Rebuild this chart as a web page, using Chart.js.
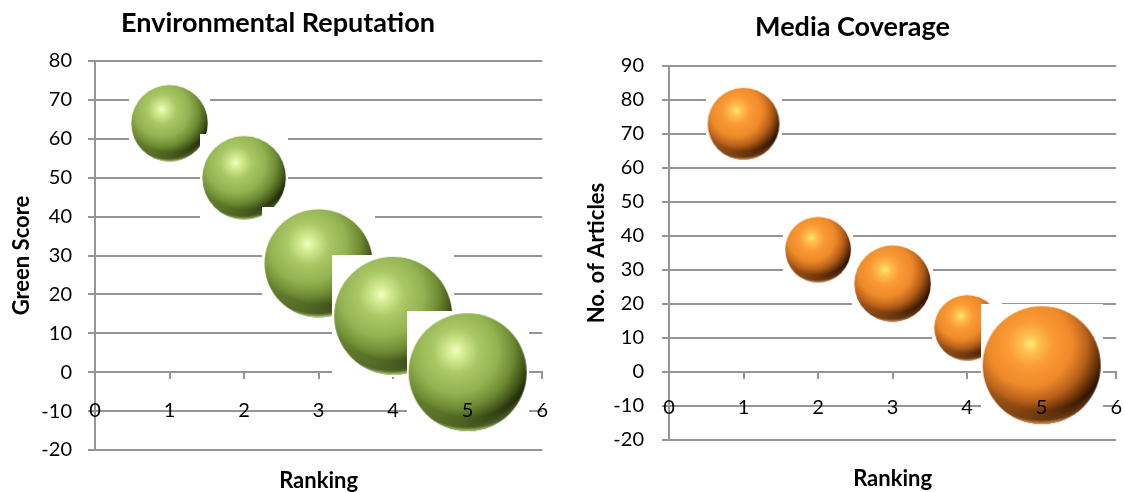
<!DOCTYPE html>
<html>
<head>
<meta charset="utf-8">
<title>Environmental Reputation and Media Coverage</title>
<script src="https://cdn.jsdelivr.net/npm/chart.js@4/dist/chart.umd.min.js"></script>
<style>
  html, body { margin: 0; padding: 0; background: #fff; overflow: hidden; width: 1125px; height: 492px; }
  .panel { position: absolute; top: 0; height: 492px; }
  #panelEnv { left: 0; width: 568px; }
  #panelMedia { left: 560px; width: 580px; }
  canvas { display: block; }
</style>
</head>
<body>
<div class="panel" id="panelEnv"><canvas id="envChart" width="568" height="492"></canvas></div>
<div class="panel" id="panelMedia"><canvas id="mediaChart" width="580" height="492"></canvas></div>
<script>
// Company ranking (x) for both charts
const rankings = [1, 2, 3, 4, 5];

// Environmental reputation: green score and bubble size per ranking
const greenScores = [64, 50, 28, 14.5, 0];
const greenBubbleSizes = [42, 50, 84, 100, 100];

// Media coverage: number of articles and bubble size per ranking
const articleCounts = [73, 36, 26, 13, 2];
const articleBubbleSizes = [37, 31, 42, 31, 100];

// Axis ranges
const xRange = { min: 0, max: 6, step: 1 };
const greenRange = { min: -20, max: 80, step: 10 };
const articleRange = { min: -20, max: 90, step: 10 };

const FONT = 'Lato, "Open Sans", "DejaVu Sans", sans-serif';
const GRID = '#959595';
const MAX_BUBBLE_RADIUS = 59;

// Bubble area is proportional to size; the largest bubble gets MAX_BUBBLE_RADIUS
function radiusFor(size, sizes) {
  return MAX_BUBBLE_RADIUS * Math.sqrt(size / Math.max(...sizes));
}

// Shaded "3D" sphere on a white square backdrop, used as a point style
function sphereImage(r, pal) {
  const m = 2;
  const size = Math.ceil(2 * (r + m));
  const c = document.createElement('canvas');
  c.width = size; c.height = size;
  const g = c.getContext('2d');
  g.fillStyle = '#ffffff';
  g.fillRect(0, 0, size, size);
  const cx = size / 2, cy = size / 2;

  // body with highlight up and to the left
  const hx = cx - 0.2 * r, hy = cy - 0.36 * r;
  const body = g.createRadialGradient(hx, hy, 0, hx, hy, 1.3 * r);
  pal.body.forEach(([stop, col]) => body.addColorStop(stop, col));
  g.beginPath();
  g.arc(cx, cy, r, 0, Math.PI * 2);
  g.fillStyle = body;
  g.fill();

  // light reflected rim along the lower edge
  g.save();
  g.beginPath();
  g.arc(cx, cy, r, 0, Math.PI * 2);
  g.clip();
  const ry = cy - 0.45 * r;
  const rim = g.createRadialGradient(cx, ry, 0, cx, ry, 1.45 * r);
  rim.addColorStop(0, pal.rimClear);
  rim.addColorStop(0.84, pal.rimClear);
  rim.addColorStop(0.95, pal.rimMid);
  rim.addColorStop(1, pal.rim);
  g.fillStyle = rim;
  g.fillRect(0, 0, size, size);
  g.restore();
  return c;
}

const greenPalette = {
  body: [[0, '#f2ffc4'], [0.1, '#d6ee94'], [0.3, '#aac866'], [0.55, '#93b251'],
         [0.75, '#6e8b33'], [0.9, '#44591a'], [1, '#222d0a']],
  rimClear: 'rgba(180,214,110,0)', rimMid: 'rgba(150,185,85,0.35)', rim: 'rgba(190,225,120,0.95)'
};
const orangePalette = {
  body: [[0, '#fff07a'], [0.1, '#ffc452'], [0.3, '#fb9a36'], [0.55, '#ef8a2a'],
         [0.75, '#b7601a'], [0.9, '#6a3308'], [1, '#2e1400']],
  rimClear: 'rgba(240,160,90,0)', rimMid: 'rgba(220,130,60,0.35)', rim: 'rgba(245,170,100,0.95)'
};

function buildChart(canvasId, cfg) {
  const radii = cfg.sizes.map(s => radiusFor(s, cfg.sizes));
  const spheres = radii.map(r => sphereImage(r, cfg.palette));
  return new Chart(document.getElementById(canvasId), {
    type: 'bubble',
    data: {
      datasets: [{
        label: cfg.title,
        data: rankings.map((x, i) => ({ x: x, y: cfg.values[i], r: radii[i] })),
        pointStyle: ctx => spheres[ctx.dataIndex],
        backgroundColor: cfg.palette.body[3][1],
        borderWidth: 0,
        clip: false
      }]
    },
    options: {
      responsive: false,
      animation: false,
      events: [],
      layout: {
        autoPadding: false,
        padding: { left: cfg.padLeft, top: 0, right: cfg.padRight, bottom: cfg.padBottom }
      },
      plugins: {
        legend: { display: false },
        tooltip: { enabled: false },
        title: {
          display: true,
          text: cfg.title,
          color: '#000',
          font: { family: FONT, size: 27, weight: 'bold', lineHeight: 1.2 },
          padding: { top: cfg.titleTop, bottom: cfg.titleBottom }
        }
      },
      scales: {
        x: {
          type: 'linear',
          position: { y: 0 },
          min: xRange.min, max: xRange.max,
          ticks: {
            stepSize: xRange.step, autoSkip: false, maxRotation: 0,
            color: '#000', font: { family: FONT, size: 20 },
            padding: cfg.xTickPad, z: 1
          },
          grid: { drawOnChartArea: false, drawTicks: true, tickLength: 6, color: GRID, lineWidth: 2 },
          border: { display: true, color: GRID, width: 2 },
          title: {
            display: true, text: 'Ranking', color: '#000',
            font: { family: FONT, size: 22, weight: 'bold', lineHeight: 1.2 },
            padding: 0
          },
          afterFit: s => { s.height = cfg.xHeight; }
        },
        y: {
          type: 'linear',
          position: 'left',
          min: cfg.range.min, max: cfg.range.max,
          ticks: {
            stepSize: cfg.range.step, color: '#000',
            font: { family: FONT, size: 20 }, padding: cfg.yTickPad
          },
          grid: { color: GRID, lineWidth: 2, drawTicks: true, tickLength: 7 },
          border: { display: true, color: GRID, width: 2 },
          title: {
            display: true, text: cfg.yTitle, color: '#000',
            font: { family: FONT, size: 22, weight: 'bold', lineHeight: 1.2 },
            padding: { top: cfg.yTitlePad, bottom: 0 }
          },
          afterFit: s => { s.width = cfg.yWidth; }
        }
      }
    }
  });
}

function drawAll() {
  buildChart('envChart', {
    title: 'Environmental Reputation',
    yTitle: 'Green Score',
    values: greenScores,
    sizes: greenBubbleSizes,
    palette: greenPalette,
    range: greenRange,
    padLeft: 0, padRight: 12, padBottom: 42,
    titleTop: 6.8, titleBottom: 21.8,
    xTickPad: 20, xHeight: 121.5,
    yTickPad: 16, yWidth: 95, yTitlePad: 8.8
  });
  buildChart('mediaChart', {
    title: 'Media Coverage',
    yTitle: 'No. of Articles',
    values: articleCounts,
    sizes: articleBubbleSizes,
    palette: orangePalette,
    range: articleRange,
    padLeft: 5, padRight: 0, padBottom: 52,
    titleTop: 10.8, titleBottom: 22.8,
    xTickPad: 18, xHeight: 120,
    yTickPad: 18, yWidth: 104, yTitlePad: 18.8
  });
}

Promise.all([
  document.fonts.load('20px Lato'),
  document.fonts.load('bold 27px Lato')
]).then(drawAll, drawAll);
</script>
</body>
</html>
